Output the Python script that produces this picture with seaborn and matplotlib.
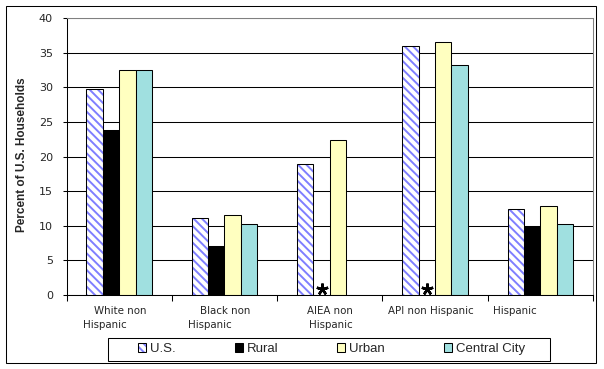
import matplotlib
matplotlib.use("Agg")
import matplotlib.pyplot as plt
import seaborn as sns
import pandas as pd
import numpy as np
from matplotlib.patches import Patch, Rectangle
from matplotlib.colors import to_rgba
from matplotlib.font_manager import FontProperties

# ---------------- data ----------------
categories = ["White non Hispanic", "Black non Hispanic", "AIEA non Hispanic",
              "API non Hispanic", "Hispanic"]
label_lines = [["White non", "Hispanic"], ["Black non", "Hispanic"],
               ["AIEA non", "Hispanic"], ["API non Hispanic"], ["Hispanic"]]
series = ["U.S.", "Rural", "Urban", "Central City"]
us_vals = [29.8, 11.1, 18.9, 36.0, 12.4]
rural_vals = [23.8, 7.1, np.nan, np.nan, 9.8]
urban_vals = [32.5, 11.55, 22.4, 36.6, 12.85]
central_vals = [32.5, 10.25, np.nan, 33.3, 10.25]
yticks = [0, 5, 10, 15, 20, 25, 30, 35, 40]
ylabel = "Percent of U.S. Households"
suppressed = [(2, "Rural"), (3, "Rural")]   # shown as asterisks

# ---------------- styling ----------------
sns.set_style("white")
plt.rcParams["font.family"] = ["DejaVu Sans"]
plt.rcParams["hatch.linewidth"] = 1.4

colors = {"U.S.": "#FFFFFF", "Rural": "#000000", "Urban": "#FFFFC0",
          "Central City": "#A0E0E0"}
hatch_blue = "#7F7FFF"
hatch_pat = "\\\\\\\\"

W, H = 604, 369
fig = plt.figure(figsize=(W / 100, H / 100), dpi=100)
ax_l, ax_r, ax_t, ax_b = 66.5, 593.0, 18.3, 295.0
ax = fig.add_axes([ax_l / W, 1 - ax_b / H, (ax_r - ax_l) / W, (ax_b - ax_t) / H])

rows = []
for s, vals in zip(series, [us_vals, rural_vals, urban_vals, central_vals]):
    for c, v in zip(categories, vals):
        rows.append({"category": c, "series": s, "value": v})
df = pd.DataFrame(rows)

bar_width = 0.622
sns.barplot(data=df, x="category", y="value", hue="series", order=categories,
            hue_order=series, palette=colors, width=bar_width, gap=0,
            saturation=1, edgecolor="black", linewidth=0.75, errorbar=None,
            legend=False, ax=ax, zorder=3)

for bar in ax.containers[0]:
    bar.set_hatch(hatch_pat)
    bar._hatch_color = to_rgba(hatch_blue)

# asterisks for suppressed values
n = len(series)
for ci, s in suppressed:
    hi = series.index(s)
    x = ci - bar_width / 2 + bar_width / n * (hi + 0.5)
    ax.plot([x], [0.87], marker=(5, 2, 0), markersize=8.5, mew=1.8,
            color="black", zorder=5, clip_on=False)

ax.set_xlim(-0.5, len(categories) - 0.5)
ax.set_ylim(yticks[0], yticks[-1])
ax.set_yticks(yticks)
ax.set_xticks(np.arange(-0.5, len(categories), 1.0))
ax.set_xticklabels([])
ax.set_xlabel("")
ax.set_ylabel("")
ax.set_axisbelow(True)
ax.yaxis.grid(True, color="black", linewidth=0.75)
ax.xaxis.grid(False)
ax.tick_params(axis="x", length=4, width=0.75, direction="out", color="black",
               bottom=True)
ax.tick_params(axis="y", length=2.6, width=0.75, direction="out", color="black",
               pad=7.2, labelsize=8, left=True)
for side in ["left", "bottom"]:
    ax.spines[side].set_color("black")
    ax.spines[side].set_linewidth(0.75)
for side in ["top", "right"]:
    ax.spines[side].set_color("#808080")
    ax.spines[side].set_linewidth(0.75)
for sp in ax.spines.values():
    sp.set_zorder(4)

# category labels (Excel-like wrapped placement)
unit = (ax_r - ax_l) / len(categories)
line_offsets_px = [[1.3, -14.7], [0.8, -14.2], [0.3, 1.3], [-4.2], [-25.7]]
line_y_px = [310.7, 325.0]
xtr = ax.get_xaxis_transform()
for ci, lines in enumerate(label_lines):
    for li, txt in enumerate(lines):
        x = ci + line_offsets_px[ci][li] / unit
        y = (ax_b - line_y_px[li]) / (ax_b - ax_t)
        ax.text(x, y, txt, transform=xtr, ha="center", va="center",
                fontsize=7.4, family="DejaVu Sans", clip_on=False)

# y label
fig.text(22 / W, 1 - 155 / H, ylabel, rotation=90, ha="center", va="center",
         fontsize=8.5, fontweight="bold", family="Liberation Sans")

# legend
handles = []
for s in series:
    p = Patch(facecolor=colors[s], edgecolor="black", linewidth=0.75)
    if s == "U.S.":
        p.set_hatch(hatch_pat)
        p._hatch_color = to_rgba(hatch_blue)
    handles.append(p)
fig.legend(handles, series, loc="center",
           bbox_to_anchor=(331.5 / W, 1 - 349 / H), ncol=4, frameon=False,
           handlelength=0.6, handleheight=0.6, handletextpad=0.3,
           columnspacing=4.47, borderpad=0, borderaxespad=0,
           prop=FontProperties(family="Liberation Sans", size=9.5))
fig.patches.append(Rectangle((108 / W, 1 - 361 / H), (550 - 108) / W,
                             (361 - 338) / H, transform=fig.transFigure,
                             fill=False, edgecolor="black", linewidth=0.75))

# outer chart border
fig.patches.append(Rectangle((6 / W, 1 - 363 / H), (596 - 6) / W,
                             (363 - 6) / H, transform=fig.transFigure,
                             fill=False, edgecolor="black", linewidth=0.75))

fig.savefig("out.png", dpi=100)
